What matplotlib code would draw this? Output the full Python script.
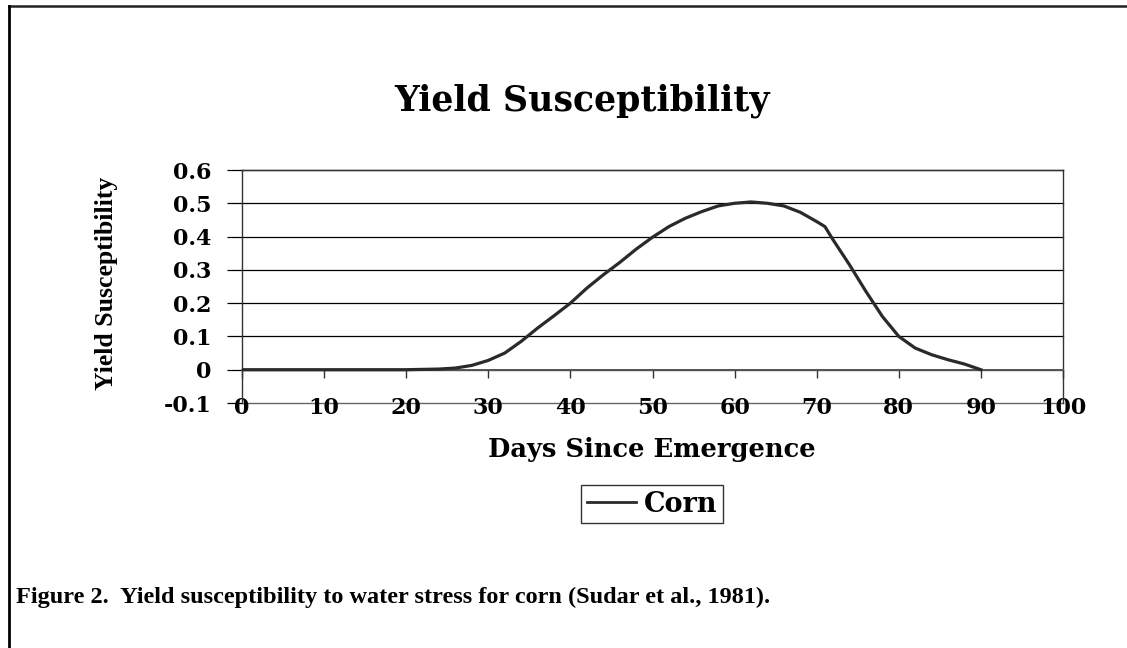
import matplotlib.pyplot as plt
from matplotlib.lines import Line2D

# values
days = [0, 5, 10, 15, 20, 24, 26, 28, 30, 32, 34, 36, 38, 40, 42, 44, 46, 48,
        50, 52, 54, 56, 58, 60, 62, 64, 66, 68, 70, 71, 72, 74, 76, 78, 80,
        82, 84, 86, 88, 90]
corn = [0, 0, 0, 0, 0, 0.002, 0.005, 0.013, 0.028, 0.05, 0.085, 0.125, 0.162,
        0.2, 0.245, 0.285, 0.322, 0.362, 0.398, 0.43, 0.455, 0.475, 0.492,
        0.5, 0.504, 0.5, 0.492, 0.473, 0.445, 0.43, 0.39, 0.315, 0.235, 0.16,
        0.1, 0.065, 0.045, 0.03, 0.017, 0.0]

xticks = [0, 10, 20, 30, 40, 50, 60, 70, 80, 90, 100]
yticks = [-0.1, 0, 0.1, 0.2, 0.3, 0.4, 0.5, 0.6]
ylabels = ["-0.1", "0", "0.1", "0.2", "0.3", "0.4", "0.5", "0.6"]

W, H = 1127, 648
fig = plt.figure(figsize=(W / 100, H / 100), dpi=100)
ax = fig.add_axes([242 / W, 1 - 403 / H, (1063 - 242) / W, (403 - 170) / H])

wide = {"family": "DejaVu Serif", "weight": "bold"}
narrow = {"family": "Liberation Serif", "weight": "bold"}

for y in yticks[1:]:
    ax.axhline(y, color="black", lw=0.9, zorder=1, clip_on=False)
# bottom edge of the plot area
ax.plot([0, 100], [-0.1, -0.1], color="#666666", lw=1.0, clip_on=False, zorder=1)

line, = ax.plot(days, corn, color="#2a2a2a", lw=2.3, label="Corn", zorder=3)

ax.set_xlim(0, 100)
ax.set_ylim(-0.1, 0.6)
ax.spines["bottom"].set_position(("data", 0))
ax.spines["bottom"].set_color("#555555")
ax.spines["bottom"].set_linewidth(1.4)
for s in ["left", "right", "top"]:
    ax.spines[s].set_color("#333333")
    ax.spines[s].set_linewidth(1.0)

ax.set_xticks(xticks)
ax.set_xticklabels([str(t) for t in xticks], fontdict=wide, fontsize=16)
ax.set_yticks(yticks)
ax.set_yticklabels(ylabels, fontdict=wide, fontsize=16)
ax.tick_params(axis="x", direction="out", length=6, width=1, color="#333333", pad=14)
ax.tick_params(axis="y", direction="out", length=11, width=0.9, color="black", pad=11)

fig.text(582 / W, 1 - 101 / H, "Yield Susceptibility", ha="center", va="center",
         fontsize=25, **wide)
fig.text(652 / W, 1 - 450 / H, "Days Since Emergence", ha="center", va="center",
         fontsize=18.5, **wide)
fig.text(107 / W, 1 - 283 / H, "Yield Susceptibility", ha="center", va="center",
         rotation=90, fontsize=18.5, **narrow)
fig.text(16 / W, 1 - 597 / H, "Figure 2.  Yield susceptibility to water stress for corn (Sudar et al., 1981).",
         ha="left", va="center", fontsize=17.5, **narrow)

leg = fig.legend(handles=[line], loc="center", bbox_to_anchor=(652 / W, 1 - 504 / H),
                 prop={"family": "DejaVu Serif", "weight": "bold", "size": 19.5},
                 frameon=True, fancybox=False, edgecolor="black", handlelength=1.8,
                 handletextpad=0.3, borderpad=0.2, borderaxespad=0)
leg.get_frame().set_linewidth(1.0)
leg.get_lines()[0].set_linewidth(2.0)

# page border (top and left)
fig.add_artist(Line2D([9 / W, 1], [1 - 6 / H, 1 - 6 / H], color="#222222", lw=1.8))
fig.add_artist(Line2D([9 / W, 9 / W], [0, 1 - 6 / H], color="black", lw=2.0))

fig.savefig("out.png", dpi=100)
